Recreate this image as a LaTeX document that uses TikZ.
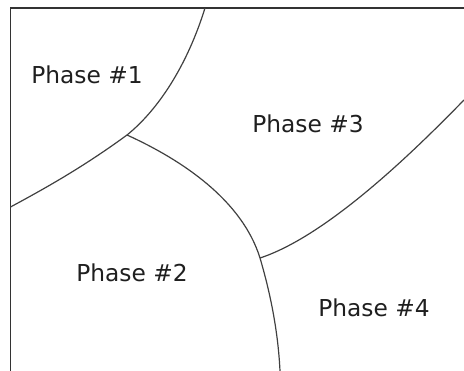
\documentclass[tikz,border=0pt]{standalone}
\usepackage{fontspec}
\setmainfont{DejaVu Sans}
\begin{document}
\begin{tikzpicture}[x=1pt,y=-1pt,
  boundary/.style={draw=black!75,line width=1.2pt},
  frame/.style={draw=black!80,line width=1.4pt},
  label/.style={font=\fontsize{23.3}{28}\selectfont,text=black!88,inner sep=0pt}]
\useasboundingbox (0,0) rectangle (464,371);
% outer frame (left and top edges)
\coordinate (fbl) at (10.5,371);
\coordinate (ftl) at (10.5,8);
\coordinate (ftr) at (464,8);
\draw[frame] (fbl) -- (ftl) -- (ftr);
% junctions and ends of the phase boundaries
\coordinate (top) at (205,8);
\coordinate (left) at (10.5,207);
\coordinate (j1) at (127,135);
\coordinate (j2) at (260,258);
\coordinate (bot) at (280,371);
\coordinate (right) at (464,100);
\draw[boundary] (top) .. controls (187,66) and (158,110) .. (j1)
  .. controls (82,168) and (42,190) .. (left);
\draw[boundary] (j1) .. controls (182,160) and (242,200) .. (j2)
  .. controls (270,292) and (278,330) .. (bot);
\draw[boundary] (j2) .. controls (330,235) and (420,145) .. (right);
% phase labels
\node[label] (p1) at (87,75) {Phase \#1};
\node[label] (p2) at (132,273) {Phase \#2};
\node[label] (p3) at (308,124) {Phase \#3};
\node[label] (p4) at (374,308) {Phase \#4};
\end{tikzpicture}
\end{document}
